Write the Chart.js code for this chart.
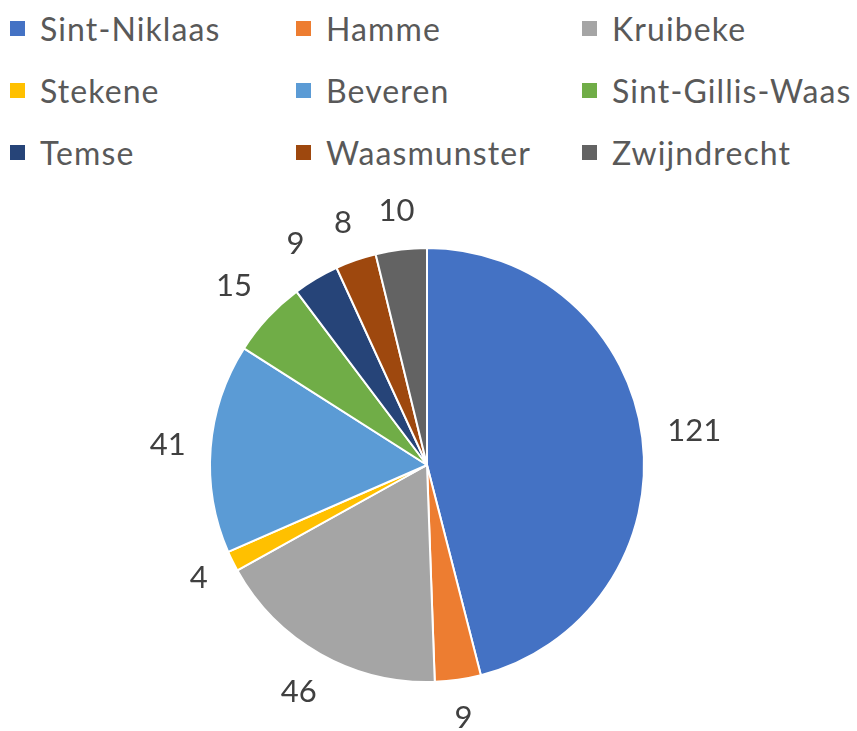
<!DOCTYPE html>
<html><head><meta charset="utf-8">
<script src="https://cdn.jsdelivr.net/npm/chart.js@4/dist/chart.umd.min.js"></script>
<style>
html,body{margin:0;padding:0;background:#fff;width:857px;height:731px;overflow:hidden;font-family:Lato,"Open Sans",sans-serif;}
#wrap{position:relative;width:857px;height:731px;}
#legend{position:absolute;left:0;top:0;width:857px;height:190px;}
.item{position:absolute;display:flex;align-items:center;color:#595959;font-size:32px;letter-spacing:1.1px;white-space:nowrap;height:40px;}
.box{width:15px;height:15px;margin-right:15px;flex:none;}
canvas{position:absolute;left:0;top:0;}
</style></head><body>
<div id="wrap"><div id="legend"></div><canvas id="c" width="857" height="731"></canvas></div>
<script>
const categories = ["Sint-Niklaas","Hamme","Kruibeke","Stekene","Beveren","Sint-Gillis-Waas","Temse","Waasmunster","Zwijndrecht"];
const values = [121, 9, 46, 4, 41, 15, 9, 8, 10];
const colors = ["#4472C4","#ED7D31","#A5A5A5","#FFC000","#5B9BD5","#70AD47","#264478","#9E480E","#636363"];

// HTML legend, 3 columns
const legend = document.getElementById('legend');
const colX = [10, 296, 582];
const rowY = [8, 70, 132];
categories.forEach((name, i) => {
  const d = document.createElement('div');
  d.className = 'item';
  d.style.left = colX[i % 3] + 'px';
  d.style.top = rowY[Math.floor(i / 3)] + 'px';
  const b = document.createElement('span');
  b.className = 'box';
  b.style.background = colors[i];
  const t = document.createElement('span');
  t.textContent = name;
  d.appendChild(b); d.appendChild(t);
  legend.appendChild(d);
});

const outsideLabels = {
  id: 'outsideLabels',
  afterDatasetsDraw(chart) {
    const ctx = chart.ctx;
    const meta = chart.getDatasetMeta(0);
    ctx.save();
    ctx.font = '31px Lato, "Open Sans", sans-serif';
    ctx.fillStyle = '#404040';
    ctx.textAlign = 'center';
    ctx.textBaseline = 'middle';
    meta.data.forEach((arc, i) => {
      const p = arc.getProps(['x','y','startAngle','endAngle','outerRadius'], true);
      const mid = (p.startAngle + p.endAngle) / 2;
      const dx = Math.cos(mid), dy = Math.sin(mid);
      const txt = String(values[i]);
      const w = ctx.measureText(txt).width;
      const h = 26;
      const dist = p.outerRadius + 24 + Math.abs(dx) * w / 2 + Math.abs(dy) * h / 2;
      ctx.fillText(txt, p.x + dx * dist, p.y + dy * dist);
    });
    ctx.restore();
  }
};

new Chart(document.getElementById('c'), {
  type: 'pie',
  data: {
    labels: categories,
    datasets: [{ data: values, backgroundColor: colors, borderColor: '#ffffff', borderWidth: 2 }]
  },
  options: {
    responsive: false,
    animation: false,
    layout: { padding: { top: 247, bottom: 48, left: 0, right: 3 } },
    plugins: { legend: { display: false }, tooltip: { enabled: false } }
  },
  plugins: [outsideLabels]
});
</script>
</body></html>
